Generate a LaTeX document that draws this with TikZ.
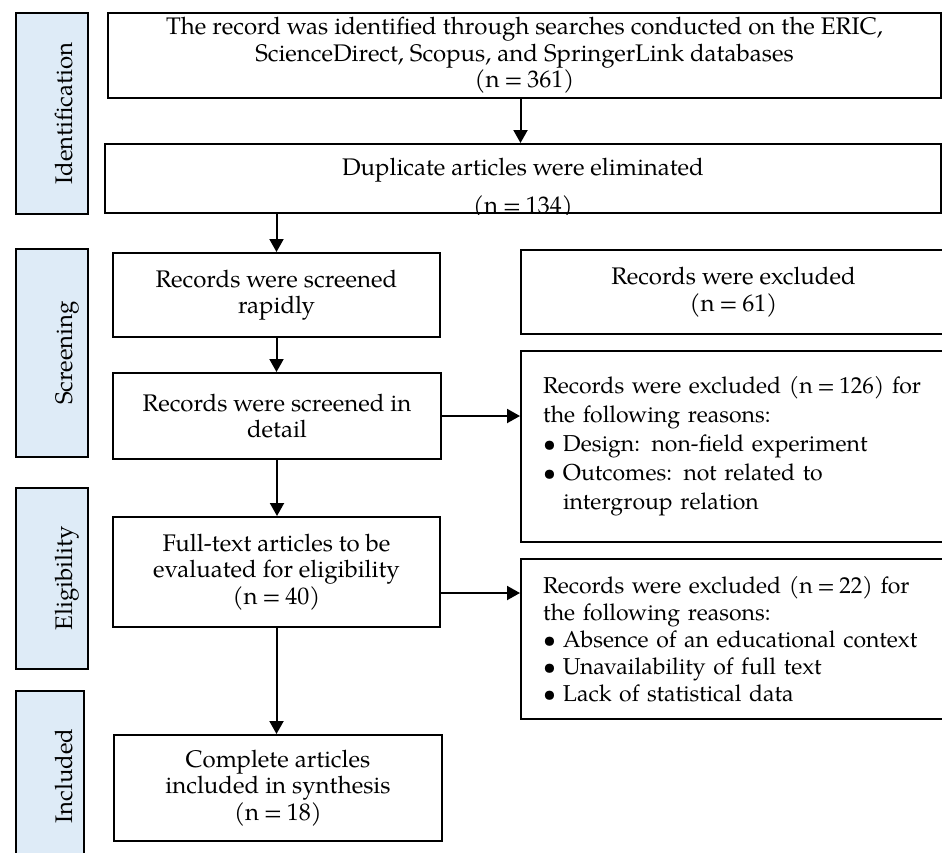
\documentclass[tikz,border=0pt]{standalone}
\usepackage{fontspec}
\setmainfont{TeX Gyre Pagella}
\usetikzlibrary{arrows.meta}

\definecolor{stageblue}{HTML}{DEEBF7}
\newcommand{\ncount}[1]{(n\hspace{0.2em}=\hspace{0.2em}#1)}
\newcommand{\itm}{\makebox[10pt][l]{\textbullet}}

\tikzset{
	box/.style={draw=black, line width=1pt, inner sep=0pt, align=center,
		font=\fontsize{12}{13.25}\selectfont},
	stage/.style={draw=black, line width=0.9pt, fill=stageblue, rotate=90, inner sep=0pt,
		text height=20pt, text depth=0pt, minimum height=36pt,
		font=\fontsize{12}{13.25}\selectfont},
	arr/.style={-{Triangle[length=6.5pt, width=7pt]}, line width=1pt},
}

\begin{document}
\begin{tikzpicture}[x=0.5pt, y=-0.5pt]
	\useasboundingbox (0,0) rectangle (942,852);

	\node[stage, minimum width=100.5pt]                                      (ident) at (52,113.5) {Identification};
	\node[stage, minimum width=104pt]                                        (scr)   at (52,353)   {Screening};
	\node[stage, minimum width=90.5pt]                                       (elg)   at (52,578.5) {Eligibility};
	\node[stage, minimum width=85pt, minimum height=34pt, text height=22pt]  (inc)   at (50,776)   {Included};

	\node[box, minimum width=416.5pt, minimum height=42.5pt] (search) at (524.5,55.5) {The record was identified through searches conducted on the ERIC,\\ScienceDirect, Scopus, and SpringerLink databases\\\ncount{361}};
	\node[box, minimum width=418pt, minimum height=34.5pt]   (dup)    at (523,178.5)  {};
	\begin{scope}
		\clip (dup.south west) rectangle (dup.north east);
		\node[align=center, inner sep=0pt, anchor=base, font=\fontsize{12}{13.25}\selectfont] (duptxt) at (523,213) {Duplicate articles were eliminated\\[5.75pt]\ncount{134}};
	\end{scope}
	\node[box, minimum width=163.5pt, minimum height=42pt]   (rapid)  at (276.5,295)  {Records were screened\\rapidly};
	\node[box, minimum width=164pt, minimum height=43pt]     (detail) at (277,416)    {Records were screened in\\detail};
	\node[box, minimum width=163.5pt, minimum height=55pt]   (elig)   at (276.5,572)  {Full-text articles to be\\evaluated for eligibility\\\ncount{40}};
	\node[box, minimum width=164pt, minimum height=53pt]     (incl)   at (278,788)    {Complete articles\\included in synthesis\\\ncount{18}};

	\node[box, minimum width=212.5pt, minimum height=42pt]   (excl61) at (733.5,292)  {Records were excluded\\\ncount{61}};
	\node[box, minimum width=218pt, minimum height=95.5pt, text width=196pt, align=left,
		font=\fontsize{11.5}{14.5}\selectfont]                (excl126) at (739,446.5) {Records were excluded \ncount{126} for\\the following reasons:\\\itm Design: non-field experiment\\\itm Outcomes: not related to\\\hspace*{10pt}intergroup relation};
	\node[box, minimum width=218pt, minimum height=80pt, text width=196pt, align=left,
		font=\fontsize{11.5}{13.5}\selectfont]                (excl22) at (739,639)    {\makebox[187pt][s]{Records were excluded \ncount{22} for}\\the following reasons:\\\itm Absence of an educational context\\\itm Unavailability of full text\\\itm Lack of statistical data};

	\path [arr] ([xshift=-2pt]search.south) edge ([xshift=-2pt]search.south |- dup.north);
	\path [arr] (rapid.north |- dup.south)   edge (rapid.north);
	\path [arr] (rapid.south)                edge (rapid.south |- detail.north);
	\path [arr] (detail.east)                edge (detail.east -| excl126.west);
	\path [arr] (detail.south)               edge (detail.south |- elig.north);
	\path [arr] ([yshift=-10.5pt]elig.east)  edge ([yshift=-10.5pt]elig.east -| excl22.west);
	\path [arr] (elig.south)                 edge (elig.south |- incl.north);
\end{tikzpicture}
\end{document}
